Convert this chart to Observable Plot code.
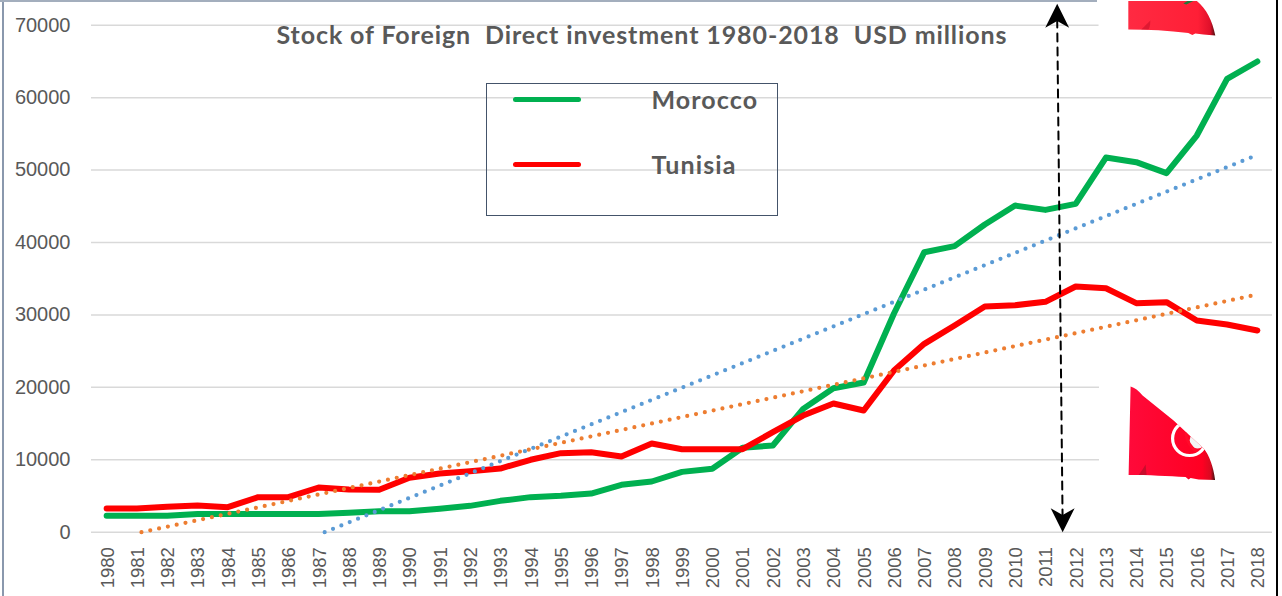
<!DOCTYPE html>
<html>
<head>
<meta charset="utf-8">
<script src="https://cdn.jsdelivr.net/npm/d3@7"></script>
<script src="https://cdn.jsdelivr.net/npm/@observablehq/plot@0.6"></script>
<style>
html,body{margin:0;padding:0;background:#fff;overflow:hidden}
#wrap{position:relative;width:1282px;height:596px;overflow:hidden}
#wrap svg{display:block;position:absolute;left:0;top:0}
.edge{position:absolute}
#legend{position:absolute;left:485.5px;top:83px;width:290px;height:131px;border:1.5px solid #44546A;box-sizing:content-box}
#legend .sw{position:absolute;left:26px;width:68px;height:5px;border-radius:3px}
#legend .lb{position:absolute;font:bold 25px Lato,sans-serif;letter-spacing:1.1px;color:#595959;line-height:30px;white-space:pre}
</style>
</head>
<body>
<div id="wrap"></div>
<script>
const years = d3.range(1980, 2019);
const morocco = [2260,2260,2270,2500,2500,2500,2500,2500,2700,2900,2900,3250,3640,4330,4840,5020,5340,6540,7000,8330,8750,11650,11970,17030,19880,20670,30190,38660,39490,42480,45100,44500,45330,51730,51090,49570,54770,62600,64990];
const tunisia = [3270,3270,3500,3690,3450,4830,4830,6170,5900,5850,7510,8100,8430,8790,10000,10910,11050,10450,12250,11460,11460,11460,13810,16110,17770,16800,22330,26010,28540,31160,31340,31810,33920,33690,31620,31760,29230,28680,27850];
const moroccoTrendYears = [1987.2, 2017.85];
const moroccoTrendValues = [0, 51840];
const tunisiaTrendYears = [1981.15, 2018];
const tunisiaTrendValues = [0, 32820];
const arrowYears = [2011.39, 2011.57];
const arrowValues = [70800, 1100];
const arrowTipYears = [2011.39, 2011.57];
const arrowTipValues = [71300, 1650];
const arrowRotate = [0, 180];
const yTicks = [0,10000,20000,30000,40000,50000,60000,70000];
const titleText = "Stock of Foreign  Direct investment 1980-2018  USD millions";

const moroccoRows = years.map((y,i)=>({year:y,value:morocco[i]}));
const tunisiaRows = years.map((y,i)=>({year:y,value:tunisia[i]}));
const pairs = (xs,ys)=>xs.map((x,i)=>({x,y:ys[i]}));

const flagTop = `<svg xmlns="http://www.w3.org/2000/svg" width="180" height="40" viewBox="0 0 180 40">
<defs><linearGradient id="g" x1="0" x2="1"><stop offset="0" stop-color="#ff2a42"/><stop offset="0.8" stop-color="#ff1f36"/><stop offset="0.94" stop-color="#e0102a"/><stop offset="1" stop-color="#4a1010"/></linearGradient></defs>
<rect width="180" height="40" fill="#fff"/>
<path d="M30 0 L98 0 C108 8 114 20 117 35 L105 34 L97 33 L94 34.5 L90 32.5 C70 30 50 29 30 29 Z" fill="url(#g)"/>
<path d="M43 29 C47 25 50 22 52 20 C52 25 51 28 50 29 Z" fill="#c8102a" opacity=".6"/>
<path d="M85 3 L90 0 L96 0 L88 4 Z" fill="#1f7a3a"/>
</svg>`;
const flagBottom = `<svg xmlns="http://www.w3.org/2000/svg" width="174" height="120" viewBox="0 0 174 120">
<defs><linearGradient id="h" x1="0" x2="1"><stop offset="0" stop-color="#ff0a3a"/><stop offset="0.85" stop-color="#ff0022"/><stop offset="0.95" stop-color="#d80a20"/><stop offset="1" stop-color="#3a1010"/></linearGradient>
<clipPath id="c"><path d="M32 6 C36 7 40 10 44 15 L75 40 L105 68 C111 75 115 87 116.5 99.5 L100 99 L92 97.5 L90 99 L87 96.5 C70 95.5 50 94.5 30 94.5 Z"/></clipPath></defs>
<rect width="174" height="120" fill="#fff"/>
<path d="M32 6 C36 7 40 10 44 15 L75 40 L105 68 C111 75 115 87 116.5 99.5 L100 99 L92 97.5 L90 99 L87 96.5 C70 95.5 50 94.5 30 94.5 Z" fill="url(#h)"/>
<g clip-path="url(#c)">
<circle cx="91" cy="58" r="17" fill="none" stroke="#fff" stroke-width="3.2"/>
<circle cx="99" cy="60" r="8" fill="#f4f4f4"/>
<path d="M87 52 C88 60 92 67 98 71" fill="none" stroke="#ff0a2a" stroke-width="3"/>
<path d="M40 94.5 L44 89 L47 84 L48 94.5 Z" fill="#b0102a" opacity=".7"/>
</g>
</svg>`;
const uri = s => "data:image/svg+xml;utf8," + encodeURIComponent(s);
const flagYears = [2015.72, 2015.63];
const flagValues = [70647, 12660];
const flagRows = [
  {x:flagYears[0],y:flagValues[0],src:uri(flagTop),w:180,h:40},
  {x:flagYears[1],y:flagValues[1],src:uri(flagBottom),w:174,h:120}
];

const stealth = {draw(ctx,size){
  const s = Math.sqrt(size);
  ctx.moveTo(0,-s*0.5);
  ctx.lineTo(s*0.5,s*0.5);
  ctx.lineTo(0,s*0.22);
  ctx.lineTo(-s*0.5,s*0.5);
  ctx.closePath();
}};

const chart = Plot.plot({
  width:1282,height:596,
  marginLeft:91,marginRight:10,marginTop:24.7,marginBottom:64.3,
  style:{background:"transparent",fontFamily:"'Liberation Sans',sans-serif",whiteSpace:"pre"},
  x:{type:"linear",domain:[1979.5,2018.5]},
  y:{domain:[0,70000]},
  marks:[
    Plot.ruleY(yTicks,{stroke:"#D9D9D9",strokeWidth:1.5,strokeOpacity:1}),
    Plot.axisY(yTicks,{anchor:"left",tickSize:0,tickPadding:21,label:null,tickFormat:d=>String(d),fontSize:20,fill:"#595959",color:"#595959"}),
    Plot.axisX(years,{anchor:"bottom",tickSize:0,tickPadding:15,label:null,tickRotate:-90,tickFormat:d=>String(d),fontSize:18.5,fill:"#595959",dx:1}),
    Plot.line(moroccoRows,{x:"year",y:"value",stroke:"#00B050",strokeWidth:6,strokeLinecap:"round",strokeLinejoin:"round"}),
    Plot.line(tunisiaRows,{x:"year",y:"value",stroke:"#FF0000",strokeWidth:6,strokeLinecap:"round",strokeLinejoin:"round"}),
    Plot.line(pairs(tunisiaTrendYears,tunisiaTrendValues),{x:"x",y:"y",stroke:"#ED7D31",strokeWidth:4.2,strokeDasharray:"0 9",strokeLinecap:"round"}),
    Plot.line(pairs(moroccoTrendYears,moroccoTrendValues),{x:"x",y:"y",stroke:"#5B9BD5",strokeWidth:4.2,strokeDasharray:"0 9",strokeLinecap:"round"}),
    Plot.image(flagRows,{x:"x",y:"y",src:"src",width:"w",height:"h"}),
    Plot.line(pairs(arrowYears,arrowValues),{x:"x",y:"y",stroke:"#000",strokeWidth:2,strokeDasharray:"8 6"}),
    Plot.dot(arrowTipYears.map((x,i)=>({x,y:arrowTipValues[i],r:arrowRotate[i]})),{x:"x",y:"y",symbol:stealth,r:13.5,rotate:"r",fill:"#000",stroke:"none"}),
    Plot.text([titleText],{frameAnchor:"top-left",dx:185,dy:19,lineAnchor:"bottom",textAnchor:"start",fontFamily:"Lato,sans-serif",fontWeight:"bold",fontSize:25,letterSpacing:"0.9px",fill:"#595959"})
  ]
});
const wrap = document.getElementById("wrap");
wrap.appendChild(chart);
chart.querySelectorAll("text").forEach(t=>{ if(t.textContent===titleText) t.style.letterSpacing="0.9px"; });
const edges = [
  ["2px","0","1.6px","596px","#8a98ad"],
  ["0","0","1097px","1.5px","#a3aebd"],
  ["1275.5px","0","2.5px","596px","#000"]
];
edges.forEach(e=>{
  const d=document.createElement("div");
  d.className="edge";
  d.style.cssText=`left:${e[0]};top:${e[1]};width:${e[2]};height:${e[3]};background:${e[4]}`;
  wrap.appendChild(d);
});
const legend = document.createElement("div");
legend.id = "legend";
const legendNames = ["Morocco","Tunisia"];
const legendColors = ["#00B050","#FF0000"];
legendNames.forEach((n,i)=>{
  const sw = document.createElement("div");
  sw.className="sw"; sw.style.background=legendColors[i]; sw.style.top=(13+i*65)+"px";
  const lb = document.createElement("div");
  lb.className="lb"; lb.textContent=n; lb.style.left="165px"; lb.style.top=(i===0?0:65)+"px";
  legend.appendChild(sw); legend.appendChild(lb);
});
wrap.appendChild(legend);
</script>
</body>
</html>
